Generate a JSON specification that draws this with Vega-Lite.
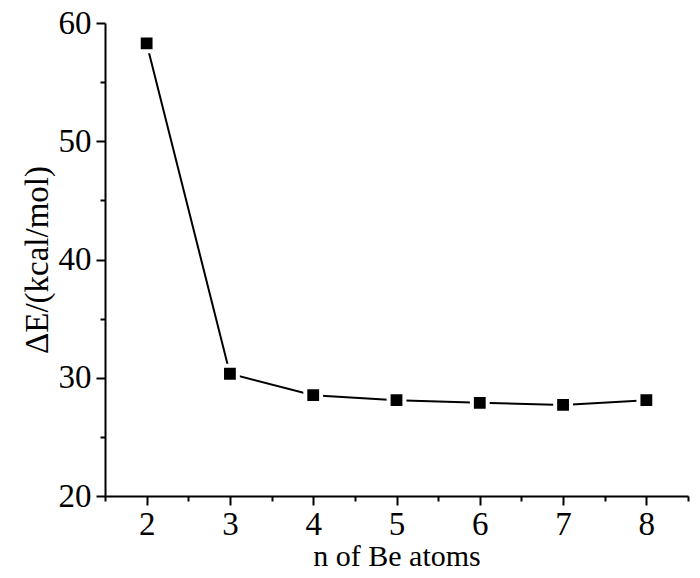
{
  "$schema": "https://vega.github.io/schema/vega-lite/v6.json",
  "autosize": {"type": "none"},
  "padding": {"left": 105, "top": 23, "right": 12, "bottom": 82},
  "width": 583,
  "height": 473,
  "background": "white",
  "config": {
    "view": {"stroke": null},
    "font": "Liberation Serif",
    "axis": {
      "domainColor": "black",
      "domainWidth": 2,
      "tickColor": "black",
      "tickWidth": 2,
      "labelColor": "black",
      "titleColor": "black",
      "labelFont": "Liberation Serif",
      "titleFont": "Liberation Serif",
      "labelFontSize": 33,
      "titleFontSize": 30,
      "titleFontWeight": "normal",
      "grid": false
    }
  },
  "data": {
    "values": [
      {"n": 2, "dE": 58.27},
      {"n": 3, "dE": 30.34},
      {"n": 4, "dE": 28.53},
      {"n": 5, "dE": 28.1},
      {"n": 6, "dE": 27.88},
      {"n": 7, "dE": 27.7},
      {"n": 8, "dE": 28.1}
    ]
  },
  "encoding": {
    "x": {
      "field": "n",
      "type": "quantitative",
      "scale": {"domain": [1.5, 8.5], "nice": false, "zero": false},
      "axis": {
        "title": "n of Be atoms",
        "values": [1.5, 2, 2.5, 3, 3.5, 4, 4.5, 5, 5.5, 6, 6.5, 7, 7.5, 8, 8.5],
        "labelExpr": "datum.value % 1 == 0 ? format(datum.value, 'd') : ''",
        "tickSize": {"condition": {"test": "datum.value % 1 == 0", "value": 9}, "value": 5},
        "labelPadding": 3,
        "titlePadding": 0,
        "labelFlush": false
      }
    },
    "y": {
      "field": "dE",
      "type": "quantitative",
      "scale": {"domain": [20, 60], "nice": false, "zero": false},
      "axis": {
        "title": "ΔE/(kcal/mol)",
        "titleFontSize": 33,
        "values": [20, 25, 30, 35, 40, 45, 50, 55, 60],
        "labelExpr": "datum.value % 10 == 0 ? format(datum.value, 'd') : ''",
        "tickSize": {"condition": {"test": "datum.value % 10 == 0", "value": 9}, "value": 5},
        "labelPadding": 5,
        "titlePadding": 4,
        "labelFlush": false
      }
    }
  },
  "layer": [
    {"mark": {"type": "line", "color": "black", "strokeWidth": 2}},
    {"mark": {"type": "square", "color": "black", "filled": true, "size": 250, "stroke": "white", "strokeWidth": 4, "opacity": 1}}
  ]
}
